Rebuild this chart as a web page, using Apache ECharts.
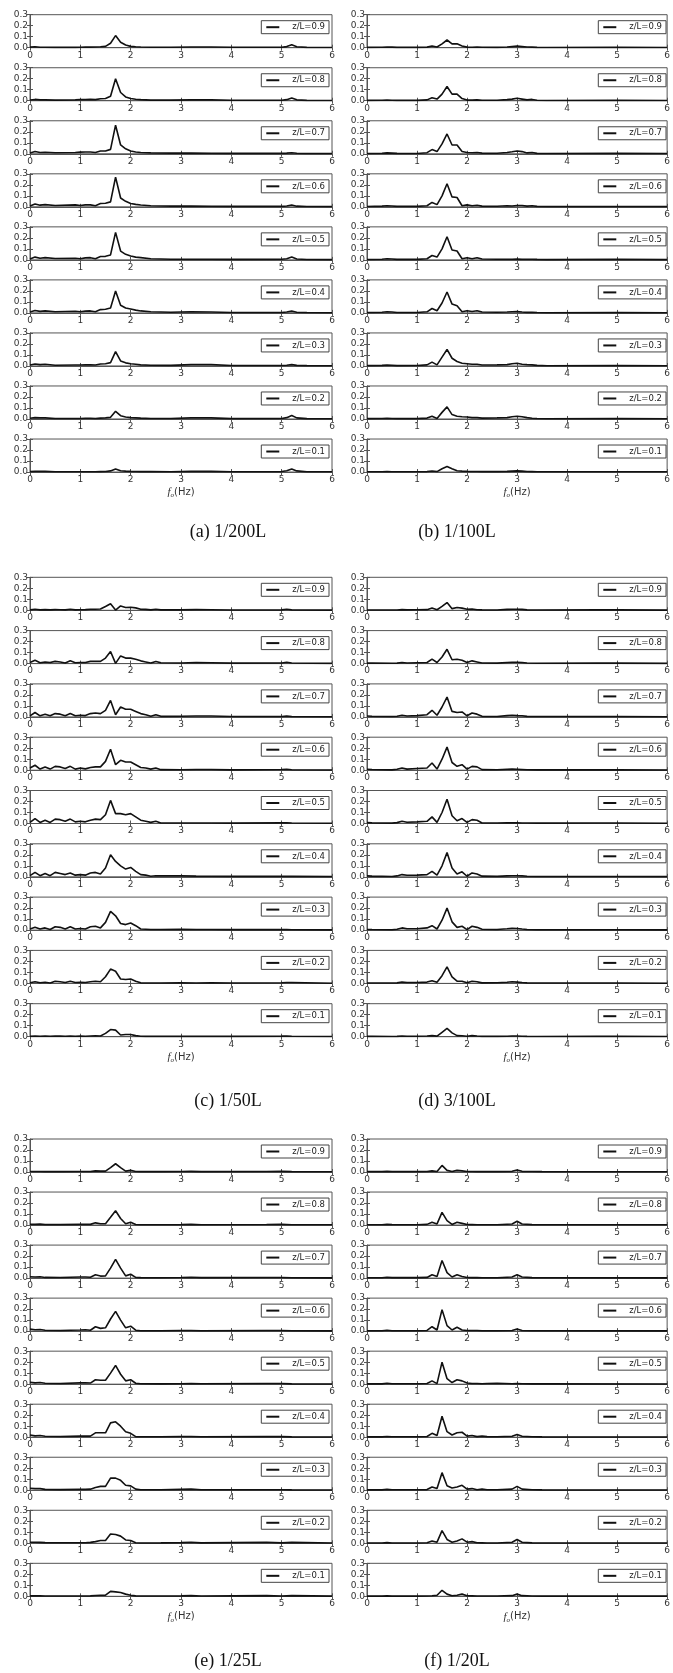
<!DOCTYPE html>
<html>
<head>
<meta charset="utf-8">
<script src="https://cdn.jsdelivr.net/npm/echarts@6/dist/echarts.min.js"></script>
<style>
html,body{margin:0;padding:0;background:#fff;}
#c{width:673px;height:1673px;}
</style>
</head>
<body>
<div id="c"></div>
<script>
// ---------- DATA ----------
const rowLabels = ['z/L=0.9','z/L=0.8','z/L=0.7','z/L=0.6','z/L=0.5','z/L=0.4','z/L=0.3','z/L=0.2','z/L=0.1'];
const captions = ['(a) 1/200L','(b) 1/100L','(c) 1/50L','(d) 3/100L','(e) 1/25L','(f) 1/20L'];
const xTicks = [0,1,2,3,4,5,6];
const yTicks = [0.0,0.1,0.2,0.3];

// (a) 1/200L
const FA = [0,0.1,0.2,0.3,0.5,0.9,1.0,1.1,1.2,1.3,1.4,1.5,1.6,1.7,1.8,1.9,2.0,2.1,2.2,2.4,2.8,3.2,3.6,4.0,5.0,5.1,5.2,5.3,5.5,6.0];
const A9 = [0.005,0.008,0.004,0.004,0.003,0.003,0.004,0.005,0.005,0.006,0.008,0.012,0.04,0.11,0.05,0.025,0.012,0.008,0.006,0.004,0.004,0.006,0.006,0.004,0.004,0.01,0.027,0.008,0.003,0.002];
const A8 = [0.006,0.012,0.008,0.008,0.006,0.008,0.01,0.01,0.012,0.01,0.018,0.02,0.04,0.2,0.075,0.035,0.02,0.014,0.01,0.006,0.006,0.008,0.008,0.004,0.004,0.01,0.025,0.008,0.003,0.002];
const A7 = [0.008,0.02,0.012,0.014,0.01,0.012,0.015,0.016,0.016,0.012,0.025,0.025,0.04,0.26,0.08,0.045,0.025,0.016,0.012,0.008,0.006,0.006,0.005,0.004,0.004,0.006,0.01,0.005,0.003,0.002];
const A6 = [0.008,0.025,0.015,0.02,0.012,0.018,0.012,0.018,0.018,0.01,0.03,0.032,0.045,0.27,0.08,0.05,0.03,0.022,0.016,0.01,0.006,0.006,0.005,0.004,0.004,0.008,0.016,0.006,0.003,0.002];
const A5 = [0.008,0.025,0.015,0.02,0.012,0.015,0.01,0.018,0.02,0.01,0.03,0.032,0.045,0.25,0.08,0.05,0.035,0.025,0.02,0.01,0.006,0.006,0.005,0.004,0.005,0.01,0.025,0.008,0.003,0.002];
const A4 = [0.008,0.022,0.014,0.018,0.01,0.015,0.01,0.016,0.018,0.01,0.03,0.033,0.045,0.2,0.07,0.045,0.035,0.025,0.018,0.01,0.006,0.01,0.008,0.004,0.004,0.008,0.016,0.006,0.003,0.002];
const A3 = [0.008,0.018,0.012,0.015,0.006,0.008,0.008,0.01,0.01,0.008,0.018,0.02,0.03,0.13,0.045,0.028,0.02,0.015,0.01,0.006,0.005,0.012,0.012,0.004,0.004,0.006,0.012,0.005,0.003,0.002];
const A2 = [0.006,0.012,0.01,0.01,0.004,0.004,0.005,0.006,0.006,0.005,0.008,0.01,0.015,0.07,0.03,0.018,0.012,0.01,0.008,0.005,0.004,0.01,0.01,0.003,0.004,0.012,0.032,0.01,0.003,0.002];
const A1 = [0.004,0.006,0.006,0.006,0.003,0.003,0.003,0.003,0.003,0.003,0.004,0.005,0.01,0.028,0.012,0.008,0.006,0.005,0.004,0.004,0.003,0.006,0.006,0.003,0.004,0.012,0.028,0.01,0.003,0.002];

// (b) 1/100L
const FB = [0,0.3,0.4,0.5,0.6,1.0,1.2,1.3,1.4,1.5,1.6,1.7,1.8,1.9,2.0,2.1,2.2,2.3,2.6,2.8,2.9,3.0,3.1,3.2,3.3,3.4,3.6,5.0,6.0];
const B9 = [0.003,0.004,0.006,0.005,0.003,0.003,0.005,0.015,0.006,0.035,0.07,0.035,0.035,0.015,0.005,0.004,0.005,0.004,0.003,0.006,0.01,0.014,0.01,0.006,0.005,0.003,0.002,0.004,0.002];
const B8 = [0.003,0.004,0.006,0.005,0.003,0.003,0.008,0.028,0.015,0.06,0.13,0.06,0.06,0.02,0.006,0.006,0.008,0.005,0.004,0.01,0.015,0.022,0.015,0.008,0.012,0.004,0.002,0.004,0.002];
const B7 = [0.003,0.005,0.008,0.006,0.004,0.003,0.01,0.038,0.02,0.09,0.18,0.08,0.08,0.02,0.012,0.01,0.012,0.006,0.005,0.012,0.018,0.025,0.02,0.008,0.012,0.004,0.002,0.004,0.002];
const B6 = [0.003,0.006,0.01,0.008,0.004,0.004,0.01,0.04,0.02,0.1,0.21,0.09,0.085,0.01,0.018,0.01,0.014,0.006,0.005,0.01,0.008,0.012,0.012,0.006,0.01,0.004,0.002,0.003,0.002];
const B5 = [0.003,0.006,0.01,0.008,0.004,0.004,0.01,0.04,0.025,0.1,0.21,0.09,0.08,0.01,0.02,0.01,0.02,0.008,0.005,0.006,0.006,0.008,0.006,0.005,0.006,0.004,0.002,0.005,0.002];
const B4 = [0.003,0.006,0.01,0.008,0.004,0.004,0.01,0.04,0.02,0.09,0.19,0.08,0.065,0.01,0.02,0.012,0.02,0.008,0.006,0.008,0.01,0.012,0.008,0.005,0.005,0.003,0.002,0.003,0.002];
const B3 = [0.003,0.005,0.008,0.006,0.003,0.004,0.01,0.035,0.01,0.08,0.15,0.07,0.04,0.025,0.02,0.015,0.015,0.008,0.01,0.012,0.02,0.025,0.015,0.012,0.01,0.005,0.002,0.004,0.002];
const B2 = [0.003,0.004,0.006,0.005,0.003,0.003,0.008,0.025,0.005,0.06,0.11,0.04,0.025,0.02,0.018,0.012,0.012,0.008,0.01,0.012,0.02,0.025,0.02,0.012,0.006,0.004,0.002,0.004,0.002];
const B1 = [0.002,0.003,0.004,0.003,0.002,0.002,0.004,0.01,0.004,0.03,0.05,0.03,0.012,0.008,0.006,0.005,0.005,0.004,0.004,0.006,0.008,0.01,0.008,0.005,0.004,0.003,0.002,0.003,0.002];

// (c) 1/50L
const FC = [0,0.1,0.2,0.3,0.4,0.5,0.6,0.7,0.8,0.9,1.0,1.1,1.2,1.3,1.4,1.5,1.6,1.7,1.8,1.9,2.0,2.1,2.2,2.3,2.4,2.5,2.6,3.0,3.3,3.6,4.0,5.0,5.1,5.2,6.0];
const C9 = [0.004,0.01,0.004,0.006,0.004,0.006,0.005,0.004,0.01,0.004,0.005,0.006,0.01,0.01,0.012,0.035,0.06,0.002,0.04,0.025,0.028,0.022,0.01,0.008,0.004,0.01,0.004,0.004,0.006,0.005,0.003,0.004,0.01,0.004,0.002];
const C8 = [0.01,0.03,0.008,0.015,0.01,0.02,0.015,0.005,0.025,0.008,0.01,0.01,0.02,0.02,0.02,0.05,0.11,0.002,0.07,0.05,0.05,0.04,0.025,0.015,0.005,0.02,0.008,0.006,0.01,0.008,0.004,0.005,0.012,0.005,0.002];
const C7 = [0.01,0.04,0.01,0.025,0.01,0.03,0.025,0.01,0.03,0.01,0.015,0.012,0.03,0.035,0.03,0.06,0.15,0.02,0.09,0.07,0.07,0.05,0.03,0.02,0.005,0.02,0.005,0.006,0.008,0.008,0.004,0.004,0.008,0.004,0.002];
const C6 = [0.02,0.045,0.01,0.03,0.01,0.035,0.03,0.015,0.035,0.01,0.02,0.012,0.025,0.03,0.03,0.08,0.19,0.05,0.09,0.075,0.075,0.05,0.025,0.02,0.01,0.02,0.005,0.004,0.006,0.006,0.003,0.006,0.008,0.004,0.002];
const C5 = [0.01,0.045,0.01,0.03,0.01,0.04,0.035,0.02,0.04,0.015,0.02,0.015,0.03,0.04,0.035,0.08,0.21,0.09,0.09,0.08,0.09,0.06,0.03,0.02,0.01,0.02,0.005,0.004,0.005,0.004,0.003,0.006,0.006,0.004,0.002];
const C4 = [0.01,0.04,0.01,0.03,0.01,0.04,0.03,0.02,0.035,0.015,0.02,0.015,0.035,0.04,0.025,0.08,0.2,0.14,0.1,0.07,0.085,0.05,0.02,0.015,0.005,0.01,0.008,0.008,0.006,0.005,0.004,0.004,0.004,0.004,0.002];
const C3 = [0.01,0.025,0.01,0.02,0.005,0.03,0.025,0.01,0.03,0.01,0.015,0.01,0.03,0.035,0.02,0.07,0.17,0.13,0.06,0.05,0.065,0.04,0.01,0.008,0.006,0.006,0.005,0.008,0.005,0.006,0.004,0.004,0.004,0.003,0.002];
const C2 = [0.006,0.015,0.006,0.01,0.004,0.02,0.015,0.008,0.02,0.008,0.01,0.008,0.015,0.02,0.015,0.06,0.13,0.11,0.04,0.035,0.04,0.02,0.005,0.004,0.004,0.004,0.004,0.006,0.004,0.006,0.004,0.006,0.008,0.008,0.002];
const C1 = [0.004,0.006,0.004,0.005,0.004,0.006,0.005,0.004,0.006,0.004,0.005,0.004,0.006,0.008,0.006,0.03,0.065,0.06,0.015,0.02,0.02,0.01,0.004,0.003,0.003,0.003,0.003,0.004,0.003,0.004,0.003,0.005,0.006,0.004,0.002];

// (d) 3/100L
const FD = [0,0.1,0.5,0.6,0.7,0.8,1.0,1.2,1.3,1.4,1.5,1.6,1.7,1.8,1.9,2.0,2.1,2.2,2.3,2.6,2.8,2.9,3.0,3.1,3.2,3.4,4.6,5.0,6.0];
const D9 = [0.003,0.003,0.003,0.003,0.006,0.004,0.005,0.006,0.02,0.005,0.035,0.07,0.015,0.025,0.02,0.01,0.012,0.005,0.004,0.003,0.008,0.01,0.01,0.008,0.004,0.003,0.004,0.004,0.002];
const D8 = [0.004,0.004,0.003,0.004,0.01,0.006,0.008,0.01,0.04,0.01,0.06,0.13,0.035,0.04,0.03,0.01,0.025,0.015,0.005,0.004,0.01,0.012,0.012,0.01,0.005,0.003,0.004,0.004,0.002];
const D7 = [0.008,0.006,0.003,0.006,0.015,0.008,0.012,0.02,0.06,0.015,0.09,0.18,0.05,0.04,0.045,0.01,0.035,0.025,0.005,0.004,0.012,0.015,0.012,0.01,0.005,0.003,0.004,0.004,0.002];
const D6 = [0.008,0.006,0.003,0.008,0.02,0.01,0.015,0.02,0.065,0.01,0.1,0.21,0.07,0.035,0.05,0.01,0.035,0.03,0.005,0.004,0.008,0.01,0.008,0.006,0.004,0.003,0.003,0.003,0.002];
const D5 = [0.008,0.006,0.003,0.008,0.02,0.012,0.015,0.02,0.06,0.01,0.1,0.22,0.07,0.025,0.045,0.01,0.035,0.03,0.005,0.004,0.006,0.006,0.006,0.005,0.004,0.003,0.005,0.005,0.002];
const D4 = [0.008,0.006,0.003,0.008,0.02,0.014,0.015,0.02,0.05,0.015,0.1,0.22,0.08,0.025,0.045,0.005,0.035,0.025,0.006,0.004,0.008,0.01,0.01,0.008,0.005,0.003,0.003,0.003,0.002];
const D3 = [0.006,0.005,0.003,0.008,0.02,0.012,0.012,0.02,0.04,0.01,0.09,0.2,0.075,0.025,0.035,0.005,0.035,0.025,0.008,0.006,0.012,0.016,0.015,0.01,0.006,0.003,0.003,0.003,0.002];
const D2 = [0.004,0.004,0.003,0.005,0.012,0.008,0.008,0.012,0.025,0.01,0.07,0.15,0.06,0.02,0.02,0.005,0.02,0.015,0.005,0.006,0.01,0.015,0.012,0.008,0.005,0.003,0.003,0.004,0.002];
const D1 = [0.003,0.003,0.002,0.003,0.006,0.004,0.004,0.006,0.01,0.005,0.04,0.075,0.035,0.01,0.008,0.004,0.01,0.006,0.003,0.003,0.004,0.006,0.006,0.004,0.003,0.002,0.003,0.003,0.002];

// (e) 1/25L
const FE = [0,0.1,0.2,0.3,0.6,1.0,1.1,1.2,1.3,1.4,1.5,1.6,1.7,1.8,1.9,2.0,2.1,2.2,2.6,3.0,3.2,3.4,4.7,5.0,5.2,6.0];
const E9 = [0.004,0.004,0.005,0.003,0.003,0.005,0.004,0.005,0.01,0.008,0.008,0.04,0.075,0.04,0.008,0.015,0.005,0.003,0.003,0.004,0.006,0.003,0.005,0.006,0.003,0.002];
const E8 = [0.006,0.006,0.008,0.004,0.004,0.006,0.006,0.006,0.02,0.012,0.012,0.07,0.13,0.06,0.012,0.025,0.005,0.003,0.003,0.004,0.006,0.003,0.005,0.006,0.003,0.002];
const E7 = [0.012,0.01,0.012,0.006,0.005,0.01,0.01,0.008,0.03,0.018,0.02,0.09,0.17,0.09,0.02,0.035,0.006,0.004,0.003,0.005,0.008,0.004,0.005,0.005,0.003,0.002];
const E6 = [0.018,0.012,0.015,0.008,0.006,0.01,0.012,0.008,0.04,0.025,0.03,0.11,0.18,0.1,0.03,0.045,0.008,0.004,0.003,0.005,0.006,0.004,0.006,0.005,0.003,0.002];
const E5 = [0.018,0.012,0.015,0.008,0.006,0.012,0.012,0.01,0.04,0.035,0.035,0.1,0.17,0.09,0.03,0.04,0.008,0.004,0.003,0.004,0.005,0.004,0.006,0.006,0.003,0.002];
const E4 = [0.02,0.012,0.015,0.008,0.006,0.01,0.01,0.01,0.04,0.04,0.04,0.13,0.14,0.1,0.05,0.035,0.005,0.004,0.004,0.006,0.006,0.004,0.005,0.005,0.003,0.002];
const E3 = [0.018,0.015,0.015,0.008,0.006,0.008,0.008,0.01,0.025,0.035,0.035,0.11,0.11,0.09,0.045,0.04,0.01,0.004,0.004,0.008,0.01,0.005,0.004,0.004,0.003,0.002];
const E2 = [0.01,0.01,0.008,0.006,0.005,0.005,0.005,0.008,0.015,0.025,0.025,0.085,0.08,0.065,0.03,0.025,0.005,0.003,0.004,0.006,0.01,0.004,0.01,0.004,0.008,0.002];
const E1 = [0.004,0.004,0.004,0.003,0.003,0.003,0.003,0.004,0.008,0.01,0.01,0.045,0.04,0.035,0.02,0.01,0.004,0.003,0.003,0.004,0.006,0.003,0.006,0.003,0.006,0.002];

// (f) 1/20L
const FF = [0,0.3,0.4,0.5,1.0,1.2,1.3,1.4,1.5,1.6,1.7,1.8,1.9,2.0,2.1,2.2,2.3,2.4,2.6,2.9,3.0,3.1,3.3,3.5,6.0];
const F9 = [0.003,0.003,0.006,0.003,0.003,0.004,0.01,0.005,0.06,0.015,0.005,0.015,0.01,0.005,0.004,0.003,0.003,0.003,0.003,0.006,0.018,0.006,0.004,0.003,0.002];
const F8 = [0.003,0.003,0.006,0.004,0.003,0.006,0.025,0.01,0.115,0.04,0.005,0.025,0.015,0.005,0.004,0.003,0.003,0.003,0.003,0.01,0.035,0.01,0.004,0.003,0.002];
const F7 = [0.003,0.003,0.008,0.004,0.004,0.006,0.03,0.015,0.16,0.05,0.01,0.03,0.015,0.005,0.004,0.004,0.003,0.003,0.003,0.01,0.03,0.01,0.004,0.003,0.002];
const F6 = [0.003,0.003,0.008,0.004,0.004,0.006,0.04,0.01,0.195,0.05,0.01,0.035,0.01,0.006,0.005,0.005,0.004,0.004,0.003,0.006,0.02,0.006,0.004,0.003,0.002];
const F5 = [0.003,0.003,0.008,0.004,0.004,0.006,0.03,0.005,0.2,0.05,0.015,0.04,0.03,0.01,0.006,0.006,0.004,0.006,0.008,0.004,0.006,0.004,0.003,0.003,0.002];
const F4 = [0.003,0.003,0.006,0.004,0.004,0.006,0.035,0.015,0.19,0.05,0.02,0.04,0.045,0.01,0.015,0.005,0.01,0.005,0.004,0.008,0.025,0.008,0.004,0.003,0.002];
const F3 = [0.003,0.003,0.008,0.004,0.004,0.006,0.03,0.015,0.16,0.04,0.02,0.03,0.045,0.01,0.015,0.005,0.01,0.004,0.004,0.01,0.035,0.01,0.004,0.003,0.002];
const F2 = [0.003,0.003,0.006,0.003,0.003,0.005,0.02,0.01,0.115,0.035,0.01,0.02,0.04,0.01,0.015,0.005,0.004,0.003,0.003,0.01,0.035,0.01,0.004,0.003,0.002];
const F1 = [0.002,0.002,0.004,0.002,0.002,0.003,0.005,0.01,0.055,0.02,0.005,0.01,0.02,0.005,0.004,0.003,0.003,0.003,0.003,0.006,0.02,0.006,0.003,0.002,0.002];

const panels = [
  {freq: FA, rows: [A9,A8,A7,A6,A5,A4,A3,A2,A1]},
  {freq: FB, rows: [B9,B8,B7,B6,B5,B4,B3,B2,B1]},
  {freq: FC, rows: [C9,C8,C7,C6,C5,C4,C3,C2,C1]},
  {freq: FD, rows: [D9,D8,D7,D6,D5,D4,D3,D2,D1]},
  {freq: FE, rows: [E9,E8,E7,E6,E5,E4,E3,E2,E1]},
  {freq: FF, rows: [F9,F8,F7,F6,F5,F4,F3,F2,F1]}
];

// ---------- LAYOUT ----------
const CW = 673;
const colLeft = [30, 367];
const plotW = 302, plotH = 33;
const groupTop = [14.7, 577.3, 1139];
const groupPitch = [53.04, 53.3, 53.04];
const capX = [228, 457];
const capY = [532, 1101, 1661];
const axisColor = '#555';
const textColor = '#333';
const lineColor = '#111';

const option = {
  animation: false,
  backgroundColor: '#fff',
  grid: [], xAxis: [], yAxis: [], series: [], legend: [], graphic: []
};

panels.forEach((p, pi) => {
  const col = pi % 2, grp = Math.floor(pi / 2);
  p.rows.forEach((vals, r) => {
    const gi = option.grid.length;
    const top = groupTop[grp] + r * groupPitch[grp];
    const left = colLeft[col];
    option.grid.push({left: left, top: top, width: plotW, height: plotH, show: true,
      borderColor: axisColor, borderWidth: 1, backgroundColor: '#fff'});
    const last = r === p.rows.length - 1;
    const xMain = {
      gridIndex: gi, type: 'value', position: 'bottom',
      min: xTicks[0], max: xTicks[xTicks.length - 1], interval: 1,
      splitLine: {show: false},
      axisLine: {show: true, lineStyle: {color: axisColor, width: 1}},
      axisTick: {show: true, inside: true, length: 3, lineStyle: {color: axisColor}},
      axisLabel: {fontSize: 9, color: textColor, margin: 3, fontFamily: 'DejaVu Sans'}
    };
    if (last) {
      xMain.name = '{f|f}{o|o}(Hz)';
      xMain.nameLocation = 'middle';
      xMain.nameGap = 14;
      xMain.nameTextStyle = {fontSize: 10, color: textColor, fontFamily: 'DejaVu Sans',
        rich: {
          f: {fontStyle: 'italic', fontFamily: 'Liberation Serif', fontSize: 11, color: textColor},
          o: {fontSize: 7, color: textColor, fontFamily: 'Liberation Serif', fontStyle: 'italic', padding: [6, 0, 0, 0]}
        }};
    }
    option.xAxis.push(xMain);
    option.xAxis.push({
      gridIndex: gi, type: 'value', position: 'top',
      min: xTicks[0], max: xTicks[xTicks.length - 1], interval: 1,
      splitLine: {show: false}, axisLine: {show: false},
      axisTick: {show: true, inside: true, length: 3, lineStyle: {color: axisColor}},
      axisLabel: {show: false}
    });
    option.yAxis.push({
      gridIndex: gi, type: 'value', position: 'left',
      min: yTicks[0], max: yTicks[yTicks.length - 1], interval: 0.1,
      splitLine: {show: false},
      axisLine: {show: true, lineStyle: {color: axisColor, width: 1}},
      axisTick: {show: true, inside: true, length: 3, lineStyle: {color: axisColor}},
      axisLabel: {fontSize: 9, color: textColor, margin: 2, fontFamily: 'DejaVu Sans',
        formatter: v => v.toFixed(1)}
    });
    option.yAxis.push({
      gridIndex: gi, type: 'value', position: 'right',
      min: yTicks[0], max: yTicks[yTicks.length - 1], interval: 0.1,
      splitLine: {show: false}, axisLine: {show: false},
      axisTick: {show: true, inside: true, length: 3, lineStyle: {color: axisColor}},
      axisLabel: {show: false}
    });
    option.series.push({
      type: 'line', name: rowLabels[r],
      xAxisIndex: 2 * gi, yAxisIndex: 2 * gi,
      data: p.freq.map((f, j) => [f, vals[j]]),
      symbol: 'none', showSymbol: false, clip: true,
      color: lineColor,
      lineStyle: {color: lineColor, width: 1.6},
      itemStyle: {color: lineColor},
      silent: true
    });
    option.legend.push({
      top: top + 6,
      right: CW - (left + plotW - 3),
      orient: 'horizontal',
      selectedMode: false,
      padding: [2, 4, 2, 5],
      itemWidth: 13, itemHeight: 2, itemGap: 0,
      icon: 'rect',
      borderColor: '#444', borderWidth: 1, borderRadius: 0,
      backgroundColor: '#fff',
      textStyle: {fontSize: 8.5, color: '#222', fontFamily: 'DejaVu Sans', padding: [0, 0, 0, 8]},
      data: [{name: rowLabels[r], icon: 'rect', itemStyle: {color: lineColor}}]
    });
  });
  option.graphic.push({
    type: 'text', x: capX[pi % 2], y: capY[Math.floor(pi / 2)],
    style: {text: captions[pi], fill: '#111', font: '18px "Liberation Serif"',
      align: 'center', verticalAlign: 'middle'}
  });
});

const chart = echarts.init(document.getElementById('c'), null, {renderer: 'canvas'});
chart.setOption(option);
</script>
</body>
</html>
